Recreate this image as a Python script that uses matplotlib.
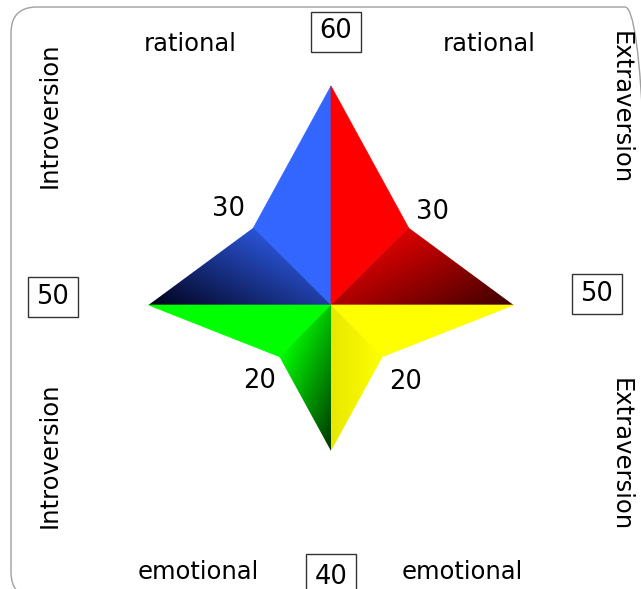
import numpy as np
import matplotlib
matplotlib.use('Agg')
import matplotlib.pyplot as plt
from matplotlib.patches import Polygon, FancyBboxPatch, Rectangle

# values of the four arms and of the four diagonals
arm_names = ['up', 'left', 'right', 'down']
arm_values = [60, 50, 50, 40]
diag_names = ['upper left', 'upper right', 'lower left', 'lower right']
diag_values = [30, 30, 20, 20]

side_labels_top = ['rational', 'rational']
side_labels_bottom = ['emotional', 'emotional']
side_labels_left = ['Introversion', 'Introversion']
side_labels_right = ['Extraversion', 'Extraversion']

W, H = 641, 589
cx, cy = 331, 305      # centre of the star in pixels
s = 3.65               # pixels per unit

fig = plt.figure(figsize=(W / 100, H / 100), dpi=100)
ax = fig.add_axes([0, 0, 1, 1])
ax.set_xlim(-cx / s, (W - cx) / s)
ax.set_ylim(-(H - cy) / s, cy / s)
ax.axis('off')

up, left, right, down = arm_values
ul, ur, ll, lr = [v / np.sqrt(2) for v in diag_values]

c = (0, 0)
p_up = (0, up)
p_left = (-left, 0)
p_right = (right, 0)
p_down = (0, -down)
p_ul = (-ul, ul)
p_ur = (ur, ur)
p_ll = (-ll, -ll)
p_lr = (lr, -lr)


def flat(pts, color):
    ax.add_patch(Polygon(pts, closed=True, fc=color, ec=color, lw=0.5, zorder=2))


def gradient(pts, start, end, c0, c1):
    pts = np.array(pts, dtype=float)
    x0, y0 = pts.min(axis=0)
    x1, y1 = pts.max(axis=0)
    xs = np.linspace(x0, x1, 300)
    ys = np.linspace(y0, y1, 300)
    X, Y = np.meshgrid(xs, ys)
    d = np.array(end) - np.array(start)
    t = ((X - start[0]) * d[0] + (Y - start[1]) * d[1]) / (d ** 2).sum()
    t = np.clip(t, 0, 1)[..., None]
    img = (1 - t) * np.array(matplotlib.colors.to_rgb(c0)) + t * np.array(matplotlib.colors.to_rgb(c1))
    im = ax.imshow(img, extent=(x0, x1, y0, y1), origin='lower',
                   interpolation='bilinear', zorder=2, aspect='auto')
    poly = Polygon(pts, closed=True, fc='none', ec='none', transform=ax.transData)
    ax.add_patch(poly)
    im.set_clip_path(poly)


# upper left - blue
flat([c, p_up, p_ul], '#3366ff')
gradient([c, p_ul, p_left], (-17.7, 26.6), (-35.5, -7.9), '#3366ff', '#000018')
# upper right - red
flat([c, p_up, p_ur], '#ff0000')
gradient([c, p_ur, p_right], (17.7, 26.6), (35.5, -7.9), '#ff0000', '#3a0000')
# lower left - green
flat([c, p_left, p_ll], '#00ff00')
gradient([c, p_ll, p_down], (-14.0, -13.7), (7.9, -23.5), '#00ff00', '#003000')
# lower right - yellow
flat([c, p_right, p_lr], '#ffff00')
gradient([c, p_lr, p_down], (14.2, -13.7), (0, -13.7), '#ffff00', '#e8e800')

# rounded frame
frame = FancyBboxPatch(((11 - cx) / s, (cy - 598) / s), 640 / s, 591 / s,
                       boxstyle='round,pad=0,rounding_size=%f' % (26 / s),
                       fc='none', ec='#a0a0a0', lw=1.0, zorder=1)
ax.add_patch(frame)


def ftext(px, py, txt, **kw):
    fig.text(px / W, 1 - py / H, txt, ha='center', va='center', **kw)


def boxed(px, py, txt, dy=0):
    # number in a small square box
    fig.add_artist(Rectangle(((px - 25) / W, 1 - (py + 20) / H), 50 / W, 40 / H,
                             transform=fig.transFigure, fc='white', ec='#333333', lw=1))
    ftext(px, py + dy, txt, fontsize=fs)


fs = 18.5

ftext(190, 44, side_labels_top[0], fontsize=17.5)
ftext(489, 44, side_labels_top[1], fontsize=17.5)
ftext(198, 572, side_labels_bottom[0], fontsize=17.5)
ftext(462, 572, side_labels_bottom[1], fontsize=17.5)
ftext(50, 115, side_labels_left[0], fontsize=17.5, rotation=90)
ftext(50, 455, side_labels_left[1], fontsize=17.5, rotation=90)
ftext(621, 108, side_labels_right[0], fontsize=17.5, rotation=270)
ftext(621, 455, side_labels_right[1], fontsize=17.5, rotation=270)

boxed(335.5, 31.5, str(arm_values[0]))
boxed(52.5, 297, str(arm_values[1]))
boxed(597, 294, str(arm_values[2]))
boxed(331, 574, str(arm_values[3]), dy=3)

ftext(228, 209, str(diag_values[0]), fontsize=fs)
ftext(432, 212, str(diag_values[1]), fontsize=fs)
ftext(260, 381, str(diag_values[2]), fontsize=fs)
ftext(406, 382, str(diag_values[3]), fontsize=fs)

fig.savefig('out.png', dpi=100, facecolor='white')
